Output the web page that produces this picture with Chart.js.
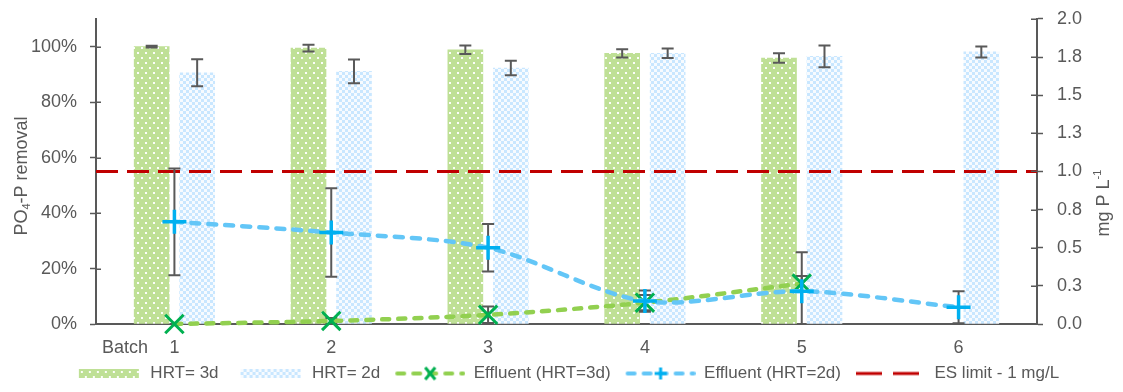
<!DOCTYPE html>
<html>
<head>
<meta charset="utf-8">
<script src="https://cdn.jsdelivr.net/npm/chart.js@4.4.1/dist/chart.umd.min.js"></script>
<style>
  html, body { margin: 0; padding: 0; background: #ffffff; }
  #wrap { width: 1123px; height: 392px; }
</style>
</head>
<body>
<div id="wrap"><canvas id="c" width="1123" height="392"></canvas></div>
<script>
// ---- data ----
const batches = ['1', '2', '3', '4', '5', '6'];

// PO4-P removal (%), left axis
const removalHRT3 = [100, 99.5, 98.9, 97.6, 95.9, null];
const removalHRT3Err = [0.3, 1.2, 1.5, 1.5, 1.7, null];
const removalHRT2 = [90.6, 91.1, 92.3, 97.6, 96.5, 98.1];
const removalHRT2Err = [4.9, 4.3, 2.6, 1.7, 3.9, 2.0];

// Effluent PO4-P (mg P/L), right axis
const effluentHRT3 = [0.0, 0.02, 0.06, 0.14, 0.265, null];
const effluentHRT3Err = [0, 0.02, 0.054, 0.05, 0.05, null];
const effluentHRT2 = [0.67, 0.60, 0.50, 0.15, 0.215, 0.11];
const effluentHRT2Err = [0.35, 0.29, 0.155, 0.07, 0.255, 0.105];

// Discharge standard
const esLimit = 1.0;

// Axis ticks
const removalTicks = [0, 20, 40, 60, 80, 100];
const concTicks = [0, 0.25, 0.5, 0.75, 1.0, 1.25, 1.5, 1.75, 2.0];

// ---- styling ----
const FONT = '"Liberation Sans", Arial, sans-serif';
const GREY = '#595959';
const GREEN_BAR = '#BFE096';
const BLUE_CHECK = '#C9E7FF';
const GREEN_LINE = '#92D050';
const GREEN_MARK = '#00B050';
const BLUE_LINE = '#63C6F7';
const BLUE_MARK = '#00B0F0';
const RED = '#C00000';
const BAR_WIDTH = 35;     // px
const BAR_SHIFT = 0.145;  // side-by-side offset of the two bars, in batch units

Chart.defaults.font.family = FONT;
Chart.defaults.color = GREY;

const canvas = document.getElementById('c');
const ctx = canvas.getContext('2d');

function makeTile(w, h, paint) {
  const t = document.createElement('canvas');
  t.width = w; t.height = h;
  paint(t.getContext('2d'));
  return t;
}

// dotted green fill
const dotTile = makeTile(8, 10, g => {
  g.fillStyle = GREEN_BAR; g.fillRect(0, 0, 8, 10);
  g.fillStyle = 'rgba(255,255,255,0.95)';
  g.fillRect(1, 2, 2, 2);
  g.fillRect(5, 7, 2, 2);
});
// light-blue checkerboard fill
const checkTile = makeTile(6, 6, g => {
  g.fillStyle = '#F7FBFF'; g.fillRect(0, 0, 6, 6);
  g.fillStyle = BLUE_CHECK;
  g.fillRect(0, 0, 3, 3);
  g.fillRect(3, 3, 3, 3);
});
const dotPattern = ctx.createPattern(dotTile, 'repeat');
const checkPattern = ctx.createPattern(checkTile, 'repeat');

// ---- legend samples (drawn inside a SAMPLE_W wide box) ----
const SAMPLE_W = 78;
function sampleCanvas(h) {
  const c = document.createElement('canvas');
  c.width = SAMPLE_W; c.height = h;
  return c;
}
function barSample(tile) {
  const c = sampleCanvas(9);
  const g = c.getContext('2d');
  g.fillStyle = g.createPattern(tile, 'repeat');
  g.fillRect(15, 0, 60, 9);
  return c;
}
function lineSample(color, markColor, mark) {
  const c = sampleCanvas(20);
  const g = c.getContext('2d');
  const x0 = 8, x1 = 78, xm = (x0 + x1) / 2;
  g.strokeStyle = color; g.lineWidth = 4; g.lineCap = 'round';
  g.setLineDash([7, 9]);
  g.beginPath(); g.moveTo(x0 + 2, 10); g.lineTo(x1 - 2, 10); g.stroke();
  g.setLineDash([]);
  g.strokeStyle = markColor; g.lineWidth = 3; g.lineCap = 'butt';
  g.beginPath();
  if (mark === 'x') {
    g.moveTo(xm - 5, 4); g.lineTo(xm + 5, 16); g.moveTo(xm + 5, 4); g.lineTo(xm - 5, 16);
  } else {
    g.moveTo(xm - 6, 10); g.lineTo(xm + 6, 10); g.moveTo(xm, 4); g.lineTo(xm, 16);
  }
  g.stroke();
  return c;
}
function dashSample(color) {
  const c = sampleCanvas(6);
  const g = c.getContext('2d');
  const x0 = 8;
  g.strokeStyle = color; g.lineWidth = 3;
  g.beginPath(); g.moveTo(x0, 3); g.lineTo(x0 + 26, 3); g.moveTo(x0 + 37, 3); g.lineTo(x0 + 63, 3); g.stroke();
  return c;
}
const legendSamples = [
  barSample(dotTile),
  barSample(checkTile),
  lineSample(GREEN_LINE, GREEN_MARK, 'x'),
  lineSample(BLUE_LINE, BLUE_MARK, '+'),
  dashSample(RED)
];

// bars are placed on their own batch-number axes
const barPoints = values => batches.map((b, i) => ({ x: Number(b), y: values[i] }));

// ---- plugins ----
function drawErrors(chart, index) {
  const ds = chart.data.datasets[index];
  if (!ds.errors) return;
  const meta = chart.getDatasetMeta(index);
  const ys = chart.scales[ds.yAxisID];
  const area = chart.chartArea;
  const c = chart.ctx;
  c.save();
  c.beginPath();
  c.rect(area.left, area.top - 10, area.right - area.left, area.bottom - area.top + 10);
  c.clip();
  c.strokeStyle = GREY;
  c.lineWidth = 2;
  ds.data.forEach((d, k) => {
    const v = (d !== null && typeof d === 'object') ? d.y : d;
    const e = ds.errors[k];
    if (v === null || v === undefined || !e) return;
    const x = meta.data[k].x;
    const top = ys.getPixelForValue(v + e);
    const bot = ys.getPixelForValue(v - e);
    c.beginPath();
    c.moveTo(x, top); c.lineTo(x, bot);
    c.moveTo(x - 6, top); c.lineTo(x + 6, top);
    c.moveTo(x - 6, bot); c.lineTo(x + 6, bot);
    c.stroke();
  });
  c.restore();
}

const errorBars = {
  id: 'errorBars',
  beforeDatasetDraw(chart, args) {
    if (chart.data.datasets[args.index].type === 'line') drawErrors(chart, args.index);
  },
  afterDatasetDraw(chart, args) {
    if (chart.data.datasets[args.index].type === 'bar') drawErrors(chart, args.index);
  }
};

function drawRotatedRich(c, parts, cx, cy, size) {
  c.save();
  c.translate(cx, cy);
  c.rotate(-Math.PI / 2);
  c.textBaseline = 'middle';
  c.textAlign = 'left';
  const fontFor = p => (p.sub || p.sup ? Math.round(size * 0.62) : size) + 'px ' + FONT;
  let total = 0;
  parts.forEach(p => { c.font = fontFor(p); total += c.measureText(p.t).width; });
  let x = -total / 2;
  parts.forEach(p => {
    c.font = fontFor(p);
    const dy = p.sub ? size * 0.3 : (p.sup ? -size * 0.35 : 0);
    c.fillText(p.t, x, dy);
    x += c.measureText(p.t).width;
  });
  c.restore();
}

const axisDecor = {
  id: 'axisDecor',
  afterDraw(chart) {
    const c = chart.ctx;
    const area = chart.chartArea;
    const yl = chart.scales.y, yr = chart.scales.y1, xs = chart.scales.x;
    c.save();
    // inner halves of the crossing tick marks
    c.strokeStyle = GREY; c.lineWidth = 1.5;
    c.beginPath();
    yl.ticks.forEach(t => { const p = Math.round(yl.getPixelForValue(t.value)) + 0.25; c.moveTo(area.left, p); c.lineTo(area.left + 5, p); });
    yr.ticks.forEach(t => { const p = Math.round(yr.getPixelForValue(t.value)) + 0.25; c.moveTo(area.right - 6, p); c.lineTo(area.right, p); });
    c.stroke();
    c.fillStyle = GREY;
    // category axis caption, on the tick-label row
    const items = xs.getLabelItems();
    if (items.length) {
      const o = items[0].options;
      c.font = '18px ' + FONT;
      c.textAlign = 'left';
      c.textBaseline = o.textBaseline;
      c.fillText('Batch', area.left + 6, o.translation[1] + (items[0].textOffset || 0));
    }
    // axis titles
    drawRotatedRich(c, [{ t: 'PO' }, { t: '4', sub: true }, { t: '-P removal' }], 22, 176, 18);
    drawRotatedRich(c, [{ t: 'mg P L' }, { t: '-1', sup: true }], 1104, 203, 18);
    c.restore();
  }
};

// ---- chart ----
const tickFont = { size: 18 };
const sideTickFont = { size: 18, lineHeight: 0.55 };
const first = Number(batches[0]) - 0.5, last = Number(batches[batches.length - 1]) + 0.5;
const hiddenX = shift => ({
  type: 'linear', axis: 'x', position: 'bottom', display: false,
  offset: false, grid: { offset: false }, min: first + shift, max: last + shift
});

new Chart(ctx, {
  type: 'bar',
  data: {
    labels: batches,
    datasets: [
      {
        type: 'bar', label: 'HRT= 3d', data: barPoints(removalHRT3), errors: removalHRT3Err,
        xAxisID: 'xg', yAxisID: 'y', backgroundColor: dotPattern, borderWidth: 0,
        grouped: false, barThickness: BAR_WIDTH, order: 4
      },
      {
        type: 'bar', label: 'HRT= 2d', data: barPoints(removalHRT2), errors: removalHRT2Err,
        xAxisID: 'xb', yAxisID: 'y', backgroundColor: checkPattern, borderWidth: 0,
        grouped: false, barThickness: BAR_WIDTH, order: 4
      },
      {
        type: 'line', label: 'Effluent (HRT=3d)', data: effluentHRT3, errors: effluentHRT3Err,
        xAxisID: 'x', yAxisID: 'y1',
        borderColor: GREEN_LINE, borderWidth: 4.5, borderDash: [7, 9],
        borderCapStyle: 'round', tension: 0.3, fill: false,
        pointStyle: 'crossRot', pointRadius: 13, pointBorderColor: GREEN_MARK,
        pointBorderWidth: 3, pointBackgroundColor: 'rgba(0,0,0,0)', clip: false, order: 2
      },
      {
        type: 'line', label: 'Effluent (HRT=2d)', data: effluentHRT2, errors: effluentHRT2Err,
        xAxisID: 'x', yAxisID: 'y1',
        borderColor: BLUE_LINE, borderWidth: 4.5, borderDash: [8, 9],
        borderCapStyle: 'round', tension: 0.3, fill: false,
        pointStyle: 'cross', pointRadius: 12, pointBorderColor: BLUE_MARK,
        pointBorderWidth: 3.5, pointBackgroundColor: 'rgba(0,0,0,0)', clip: false, order: 1
      },
      {
        type: 'line', label: 'ES limit - 1 mg/L',
        data: [{ x: first, y: esLimit }, { x: last, y: esLimit }],
        xAxisID: 'xr', yAxisID: 'y1',
        borderColor: RED, borderWidth: 3, borderDash: [22, 9],
        pointRadius: 0, fill: false, clip: false, order: 3
      }
    ]
  },
  options: {
    responsive: false,
    animation: false,
    devicePixelRatio: 1,
    events: [],
    layout: { padding: { top: 14, left: 0, right: 0, bottom: 0 } },
    plugins: {
      tooltip: { enabled: false },
      legend: {
        position: 'bottom',
        align: 'center',
        labels: {
          usePointStyle: true,
          pointStyleWidth: SAMPLE_W,
          padding: 7,
          color: GREY,
          font: { size: 17 },
          generateLabels: chart => chart.data.datasets.map((ds, i) => ({
            text: ds.label,
            pointStyle: legendSamples[i],
            fillStyle: 'rgba(0,0,0,0)',
            strokeStyle: 'rgba(0,0,0,0)',
            lineWidth: 0,
            hidden: false,
            datasetIndex: i,
            fontColor: GREY
          }))
        }
      }
    },
    scales: {
      x: {
        type: 'category', offset: true,
        grid: { display: false, drawTicks: false },
        border: { display: true, color: GREY, width: 2 },
        ticks: { color: GREY, font: tickFont, padding: 13 },
        afterFit: s => { s.height = 34; }
      },
      xg: hiddenX(BAR_SHIFT),
      xb: hiddenX(-BAR_SHIFT),
      xr: hiddenX(0),
      y: {
        type: 'linear', position: 'left', min: 0, max: 110,
        afterBuildTicks: s => { s.ticks = removalTicks.map(v => ({ value: v })); },
        ticks: { color: GREY, font: sideTickFont, padding: 13, callback: v => v + '%' },
        grid: { drawOnChartArea: false, drawTicks: true, tickLength: 6, tickColor: GREY, tickWidth: 1.5 },
        border: { display: true, color: GREY, width: 2 },
        afterFit: s => { s.width = 96; }
      },
      y1: {
        type: 'linear', position: 'right', min: 0, max: 2,
        afterBuildTicks: s => { s.ticks = concTicks.map(v => ({ value: v })); },
        ticks: { color: GREY, font: sideTickFont, padding: 14, callback: v => v.toFixed(1) },
        grid: { drawOnChartArea: false, drawTicks: true, tickLength: 6, tickColor: GREY, tickWidth: 1.5 },
        border: { display: true, color: GREY, width: 2 },
        afterFit: s => { s.width = 86; }
      }
    }
  },
  plugins: [errorBars, axisDecor]
});
</script>
</body>
</html>
